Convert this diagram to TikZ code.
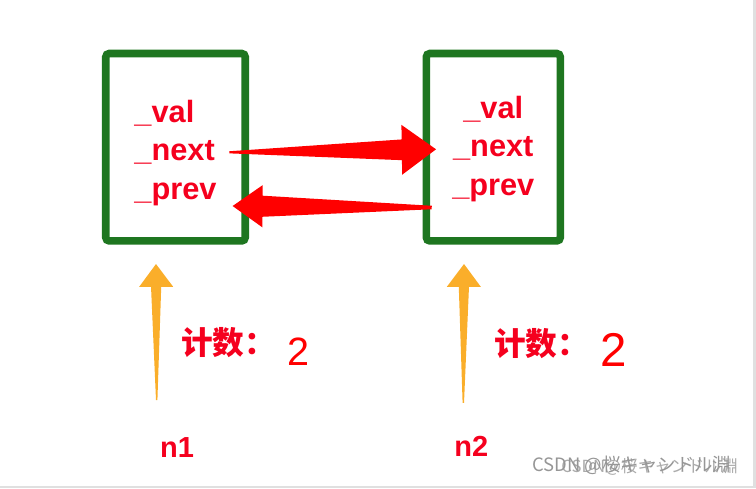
\documentclass[tikz,border=0pt]{standalone}
\usepackage{fontspec}
\setmainfont{Liberation Sans}
\newfontfamily\cjk{Noto Sans CJK SC}
\newfontfamily\jpfont{Noto Sans CJK JP}
\usetikzlibrary{calc}
\usetikzlibrary{positioning}

\definecolor{boxgreen}{RGB}{30,118,32}
\definecolor{fieldred}{RGB}{245,0,30}
\definecolor{arrowred}{RGB}{255,0,0}
\definecolor{pointerorange}{RGB}{250,174,42}
\definecolor{markgray}{RGB}{150,150,150}
\definecolor{edgegray}{RGB}{224,224,224}

\tikzset{
  listnode/.style={rectangle, draw=boxgreen, line width=4.3pt, rounded corners=2pt, minimum height=3.75cm, inner sep=0pt},
  fields/.style={text=fieldred, inner sep=0pt, font=\bfseries\fontsize{17.5}{22}\selectfont},
  counter/.style={text=fieldred, inner sep=0pt, anchor=west, font=\cjk\bfseries\fontsize{18}{18}\selectfont},
  countnum/.style={text=arrowred, inner sep=0pt},
  pointer/.style={text=fieldred, inner sep=0pt, font=\bfseries\fontsize{16.5}{16.5}\selectfont},
  watermark/.style={text=markgray, inner sep=0pt, anchor=west}
  }

% colour, from, to, tail half width, shaft half width, head length, head half width
\newcommand{\fatarrow}[7]{%
  \coordinate (fatip) at (#3);
  \coordinate (fabase) at ($(#3)!#6!(#2)$);
  \fill[#1] ($(#2)!#4!90:(#3)$) -- ($(fabase)!#5!90:(fatip)$) -- ($(fabase)!#7!90:(fatip)$) -- (fatip)
    -- ($(fabase)!#7!-90:(fatip)$) -- ($(fabase)!#5!-90:(fatip)$) -- ($(#2)!#4!-90:(#3)$) -- cycle;
}

\begin{document}
\begin{tikzpicture}[x=0.02cm, y=-0.02cm]
	% Frame
	\useasboundingbox (0,0) rectangle (756,488);
	\fill[edgegray] (753,0) rectangle (756,488);
	\fill[edgegray] (0,486) rectangle (756,488);

	% Nodes
	\node[listnode, minimum width=2.79cm] (box1) at (175.5,147.2) {};
	\node[listnode, minimum width=2.68cm] (box2) at (493.3,147.2) {};
	\node[fields, align=left] (fields1) at (175.5,153) {\_val\\\_next\\\_prev};
	\node[fields, align=center] (fields2) at (493.3,149) {\_val\\\_next\\\_prev};
	\node[counter] (count1) at (181,343) {计数：};
	\node[countnum, font=\fontsize{22.5}{22.5}\selectfont] (num1) at (298.7,352) {2};
	\node[counter] (count2) at (494,344) {计数：};
	\node[countnum, font=\fontsize{27}{27}\selectfont] (num2) at (613.3,350) {2};
	\node[pointer] (n1) at (177,448) {n1};
	\node[pointer] (n2) at (471.3,446) {n2};
	\node[watermark, font=\jpfont\fontsize{10.5}{10.5}\selectfont] (mark1) at (532,465.5) {CSDN @桜キャンドル淵};
	\node[watermark, font=\jpfont\fontsize{9.5}{9.5}\selectfont, opacity=.8] (mark2) at (561,467) {CSDN@桜キャンドル淵};

	% Arrows
	\coordinate (nextout) at ($(fields1.east)+(12.5,-0.7)$);
	\coordinate (nextin) at ($(box2.west)+(13.5,2.1)$);
	\coordinate (prevout) at ($(box2.west)+(9.2,60.3)$);
	\coordinate (previn) at ($(box1.east)+(-16.4,58.8)$);
	\fatarrow{arrowred}{nextout}{nextin}{0.6pt}{5.9pt}{19.5pt}{14.2pt}
	\fatarrow{arrowred}{prevout}{previn}{1pt}{6pt}{17pt}{12pt}
	% Pointers
	\coordinate (n1tail) at ($(n1.north)+(-20.3,-37.6)$);
	\coordinate (n1head) at ($(box1.south)+(-19.5,19.3)$);
	\coordinate (n2tail) at ($(n2.north)+(-8,-32.6)$);
	\coordinate (n2head) at ($(box2.south)+(-29.3,19.3)$);
	\fatarrow{pointerorange}{n1tail}{n1head}{0.4pt}{2.9pt}{13pt}{9.7pt}
	\fatarrow{pointerorange}{n2tail}{n2head}{0.4pt}{2.9pt}{13pt}{9.7pt}
\end{tikzpicture}
\end{document}
